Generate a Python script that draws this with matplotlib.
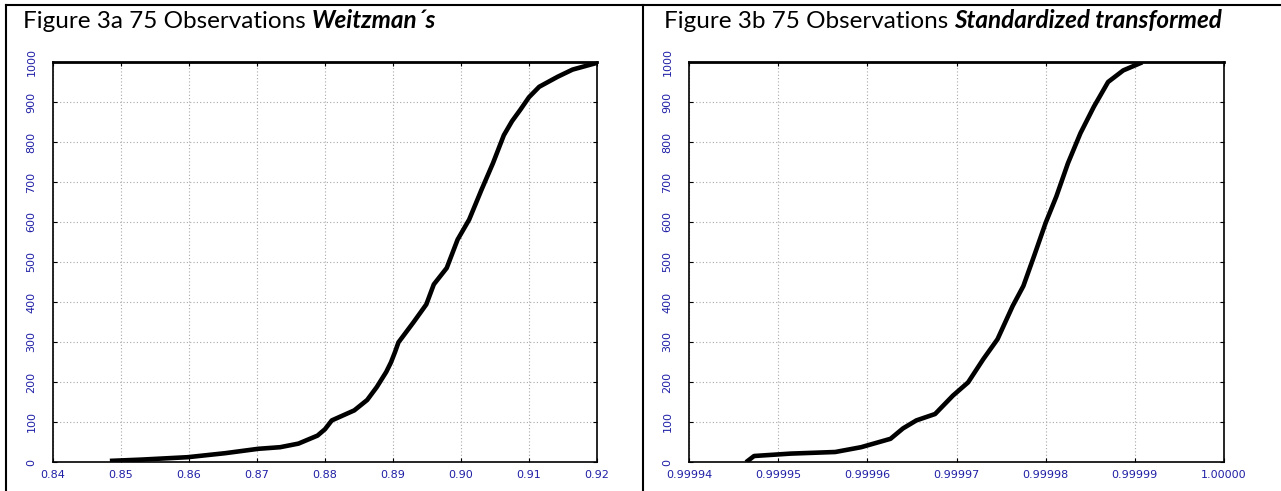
import matplotlib
matplotlib.use('Agg')
import matplotlib.pyplot as plt
from matplotlib.lines import Line2D
from matplotlib.ticker import FixedLocator, FormatStrFormatter
import numpy as np

# --- data (cumulative count of 1000 draws) ---
weitz_x = [0.8487, 0.8530, 0.8598, 0.8653, 0.8702, 0.8734, 0.8761, 0.8789, 0.8800, 0.8810,
           0.8843, 0.8862, 0.8876, 0.8890, 0.8897, 0.8903, 0.8908, 0.8930, 0.8949, 0.8960,
           0.8979, 0.8995, 0.9012, 0.9030, 0.9047, 0.9063, 0.9075, 0.9087, 0.9100, 0.9115,
           0.9142, 0.9164, 0.9196]
weitz_y = [3, 6, 12, 22, 33, 37, 46, 66, 82, 104, 129, 155, 187, 225, 249, 275, 299, 349,
           394, 444, 485, 556, 606, 680, 747, 817, 852, 880, 912, 938, 963, 981, 996]

std_x = [0.9999466, 0.9999473, 0.9999514, 0.9999564, 0.9999593, 0.9999626, 0.9999640,
         0.9999655, 0.9999676, 0.9999696, 0.9999713, 0.9999730, 0.9999746, 0.9999763,
         0.9999775, 0.9999787, 0.9999800, 0.9999812, 0.9999825, 0.9999839, 0.9999854,
         0.9999870, 0.9999887, 0.9999906]
std_y = [3, 15, 21, 25, 37, 58, 84, 104, 120, 166, 199, 257, 307, 390, 440, 515, 598,
         664, 747, 822, 888, 950, 979, 997]

weitz_xticks = [0.84, 0.85, 0.86, 0.87, 0.88, 0.89, 0.90, 0.91, 0.92]
std_xticks = [0.99994, 0.99995, 0.99996, 0.99997, 0.99998, 0.99999, 1.00000]
y_ticks = [0, 100, 200, 300, 400, 500, 600, 700, 800, 900, 1000]

W, H = 1281, 491
fig = plt.figure(figsize=(W / 100, H / 100), dpi=100, facecolor='white')

tick_blue = '#1f1fa6'


def style_axes(ax, xticks, xfmt):
    ax.set_ylim(0, 1000)
    ax.xaxis.set_major_locator(FixedLocator(xticks))
    ax.xaxis.set_major_formatter(FormatStrFormatter(xfmt))
    ax.set_yticks(y_ticks)
    ax.set_yticklabels([str(v) for v in y_ticks], rotation=90, va='center')
    ax.grid(True, linestyle=(0, (1, 2)), color='#a8a8a8', linewidth=0.8)
    ax.tick_params(direction='in', length=3, width=0.8, top=True, right=True,
                   colors='black', labelcolor=tick_blue, labelsize=8)
    ax.tick_params(axis='x', pad=6)
    ax.tick_params(axis='y', pad=12)
    for s in ax.spines.values():
        s.set_linewidth(1.2)
        s.set_color('black')
    ax.spines['top'].set_linewidth(2)


# left panel
ax1 = fig.add_axes([53 / W, (H - 462) / H, (597 - 53) / W, 400 / H])
ax1.plot(weitz_x, weitz_y, color='black', linewidth=3.3, solid_joinstyle='round')
ax1.set_xlim(0.84, 0.92)
style_axes(ax1, weitz_xticks, '%.2f')

# right panel
ax2 = fig.add_axes([689 / W, (H - 462) / H, (1224 - 689) / W, 400 / H])
ax2.plot(std_x, std_y, color='black', linewidth=3.3, solid_joinstyle='round')
ax2.set_xlim(0.99994, 1.00000)
style_axes(ax2, std_xticks, '%.5f')

# table borders of the document
top = 1 - 4.5 / H
for xs, ys in [([6 / W, 6 / W], [0, top]),
               ([6 / W, 1], [top, top]),
               ([643 / W, 643 / W], [0, top])]:
    fig.add_artist(Line2D(xs, ys, color='black', linewidth=1.5, transform=fig.transFigure))

# captions: regular part then bold italic part
renderer = fig.canvas.get_renderer()
title_font = ['Lato', 'DejaVu Sans']
for x0, plain, bold in [(23, 'Figure 3a 75 Observations ', 'Weitzman\u00b4s'),
                        (664, 'Figure 3b 75 Observations ', 'Standardized transformed')]:
    t = fig.text(x0 / W, 1 - 28 / H, plain, fontsize=17.5, family=title_font,
                 ha='left', va='baseline', color='black')
    bb = t.get_window_extent(renderer=renderer)
    fig.text(bb.x1 / W, 1 - 28 / H, bold, fontsize=17.5, family=title_font,
             fontweight='bold', style='italic', ha='left', va='baseline', color='black')

fig.savefig('out.png', dpi=100, facecolor='white')
